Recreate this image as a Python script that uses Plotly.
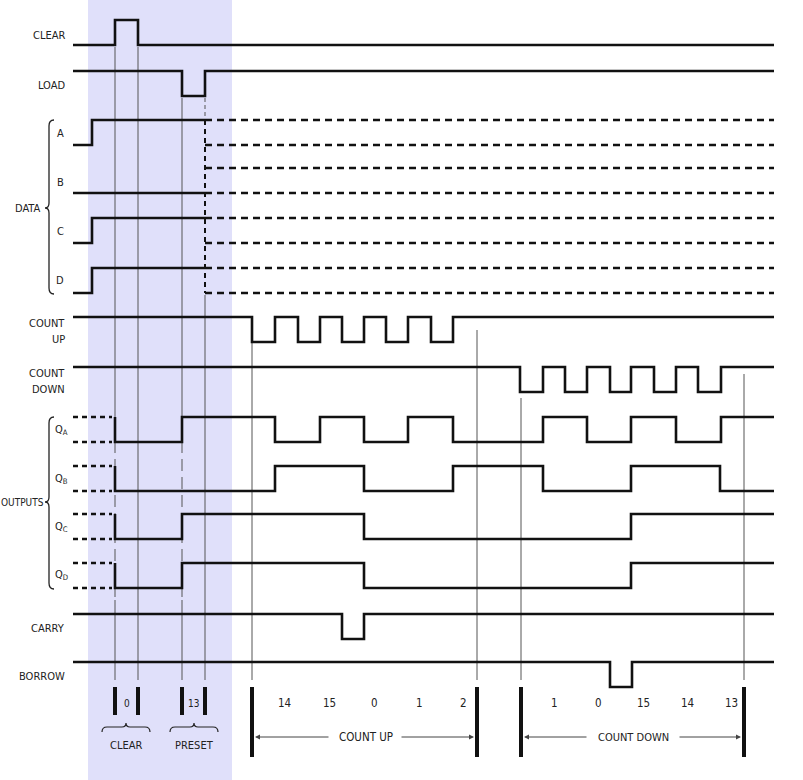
import plotly.graph_objects as go

# ---- time axis of the diagram (drawing units) ----
t_start, t_end = 73, 774
clear_marks = [115, 138]
preset_marks = [182, 205]
count_up_start, count_up_stop = 252, 477
count_down_start, count_down_stop = 521, 744

# ---- waveforms: step times and logic level after each time ----
clear_t = [73, 115, 138, 774]
clear_v = [0, 1, 0, 0]
load_t = [73, 182, 205, 774]
load_v = [1, 0, 1, 1]
data_a_t = [73, 92, 205]
data_a_v = [0, 1, 1]
data_b_t = [73, 205]
data_b_v = [0, 0]
data_c_t = [73, 92, 205]
data_c_v = [0, 1, 1]
data_d_t = [73, 92, 205]
data_d_v = [0, 1, 1]
count_up_t = [73, 252, 275, 298, 320, 342, 364, 386, 408, 431, 453, 774]
count_up_v = [1, 0, 1, 0, 1, 0, 1, 0, 1, 0, 1, 1]
count_down_t = [73, 520, 543, 565, 587, 610, 631, 654, 676, 698, 721, 774]
count_down_v = [1, 0, 1, 0, 1, 0, 1, 0, 1, 0, 1, 1]
qa_t = [115, 115, 182, 275, 320, 364, 408, 453, 543, 587, 631, 676, 721, 774]
qa_v = [1, 0, 1, 0, 1, 0, 1, 0, 1, 0, 1, 0, 1, 1]
qb_t = [115, 115, 275, 364, 453, 543, 631, 720, 774]
qb_v = [1, 0, 1, 0, 1, 0, 1, 0, 0]
qc_t = [115, 115, 182, 364, 631, 774]
qc_v = [1, 0, 1, 0, 1, 1]
qd_t = [115, 115, 182, 364, 631, 774]
qd_v = [1, 0, 1, 0, 1, 1]
carry_t = [73, 342, 364, 774]
carry_v = [1, 0, 1, 1]
borrow_t = [73, 610, 632, 774]
borrow_v = [1, 0, 1, 1]

up_counts = ["14", "15", "0", "1", "2"]
up_count_t = [284, 329, 374, 419, 463]
down_counts = ["1", "0", "15", "14", "13"]
down_count_t = [554, 598, 643, 687, 731]

# ---- layout ----
W, H = 803, 780
row_high = [20, 71, 120, 168, 218, 268, 317, 367, 417, 466, 514, 563, 614, 662]
amp = 25
INK = "#111111"
TXT = "#222222"
THIN = "#555555"
FONT = "DejaVu Sans Condensed, Liberation Sans Narrow, sans-serif"

fig = go.Figure()
shapes = []
ann = []

# shaded clear/preset band
shapes.append(dict(type="rect", x0=88, x1=232, y0=0, y1=H, fillcolor="#e0e0fa",
                   line=dict(width=0), layer="below"))


def lv(row, v):
    return row_high[row] + (0 if v else amp)


def wave(row, t, v, dash="solid", width=2.6):
    fig.add_trace(go.Scatter(x=t, y=[lv(row, a) for a in v], mode="lines",
                             line=dict(shape="hv", color=INK, width=width, dash=dash),
                             hoverinfo="skip", showlegend=False))


def vline(x, y0, y1, dash="solid", width=1, color=THIN):
    fig.add_trace(go.Scatter(x=[x, x], y=[y0, y1], mode="lines",
                             line=dict(color=color, width=width, dash=dash),
                             hoverinfo="skip", showlegend=False))


# thin timing reference lines
vline(clear_marks[0], 47, 405)
vline(clear_marks[0], 405, 600, dash="12px,6px")
vline(clear_marks[0], 600, 680)
vline(clear_marks[1], 47, 680)
vline(preset_marks[0], 98, 405)
vline(preset_marks[0], 405, 600, dash="12px,6px")
vline(preset_marks[0], 600, 680)
vline(preset_marks[1], 98, 120, dash="4px,3px")
vline(preset_marks[1], 295, 680)
vline(count_up_start, 343, 680)
vline(count_up_stop, 330, 680)
vline(count_down_start, 398, 680)
vline(count_down_stop, 374, 680)

# waveforms
wave(0, clear_t, clear_v)
wave(1, load_t, load_v)
for r, (t, v) in enumerate([(data_a_t, data_a_v), (data_b_t, data_b_v),
                            (data_c_t, data_c_v), (data_d_t, data_d_v)], start=2):
    wave(r, t, v)
    for lvl in (1, 0):
        fig.add_trace(go.Scatter(x=[205, t_end], y=[lv(r, lvl)] * 2, mode="lines",
                                 line=dict(color=INK, width=2.4, dash="7px,5px"),
                                 hoverinfo="skip", showlegend=False))
vline(preset_marks[1], 120, 293, dash="5px,4px", width=2, color=INK)
wave(6, count_up_t, count_up_v)
wave(7, count_down_t, count_down_v)
for r, (t, v) in enumerate([(qa_t, qa_v), (qb_t, qb_v), (qc_t, qc_v), (qd_t, qd_v)], start=8):
    for lvl in (1, 0):
        fig.add_trace(go.Scatter(x=[t_start, 112], y=[lv(r, lvl)] * 2, mode="lines",
                                 line=dict(color=INK, width=2.4, dash="5px,4px"),
                                 hoverinfo="skip", showlegend=False))
    wave(r, t, v)
wave(12, carry_t, carry_v)
wave(13, borrow_t, borrow_v)

# left labels
def label(x, y, text, anchor="right", size=11):
    ann.append(dict(x=x, y=y, text=text, showarrow=False, xanchor=anchor, yanchor="middle",
                    font=dict(family=FONT, size=size, color=TXT)))


label(67, 35, "CLEAR")
label(67, 85, "LOAD")
label(66, 133, "A")
label(66, 182, "B")
label(66, 231, "C")
label(66, 280, "D")
label(43, 208, "DATA")
label(67, 323, "COUNT")
label(67, 339, "UP")
label(67, 373, "COUNT")
label(67, 389, "DOWN")
label(53, 430, "Q<sub>A</sub>", anchor="left")
label(53, 479, "Q<sub>B</sub>", anchor="left")
label(53, 527, "Q<sub>C</sub>", anchor="left")
label(53, 575, "Q<sub>D</sub>", anchor="left")
label(46, 502, "OUTPUTS", size=10)
label(67, 628, "CARRY")
label(67, 676, "BORROW")

# curly brackets on the left
def left_brace(x, y0, ym, y1):
    return (f"M {x+5},{y0} Q {x},{y0} {x},{y0+6} L {x},{ym-5} Q {x},{ym} {x-4},{ym} "
            f"Q {x},{ym} {x},{ym+5} L {x},{y1-6} Q {x},{y1} {x+5},{y1}")


shapes.append(dict(type="path", path=left_brace(49, 120, 208, 294), line=dict(color=TXT, width=1.3)))
shapes.append(dict(type="path", path=left_brace(49, 417, 502, 589), line=dict(color=TXT, width=1.3)))

# bottom count markers
for x in clear_marks + preset_marks:
    shapes.append(dict(type="line", x0=x, x1=x, y0=687, y1=715, line=dict(color=INK, width=4)))
for x in [count_up_start, count_up_stop, count_down_start, count_down_stop]:
    shapes.append(dict(type="line", x0=x, x1=x, y0=687, y1=757, line=dict(color=INK, width=4)))

label(sum(clear_marks) / 2, 703, "0", anchor="center", size=10)
label(sum(preset_marks) / 2, 703, "13", anchor="center", size=10)
for s, x in zip(up_counts, up_count_t):
    label(x, 703, s, anchor="center", size=11.5)
for s, x in zip(down_counts, down_count_t):
    label(x, 703, s, anchor="center", size=11.5)


def bottom_brace(x0, x1, y):
    xm = (x0 + x1) / 2
    return (f"M {x0},{y+5} Q {x0},{y} {x0+5},{y} L {xm-4},{y} Q {xm},{y} {xm},{y-4} "
            f"Q {xm},{y} {xm+4},{y} L {x1-5},{y} Q {x1},{y} {x1},{y+5}")


shapes.append(dict(type="path", path=bottom_brace(102, 150, 727), line=dict(color=TXT, width=1.2)))
shapes.append(dict(type="path", path=bottom_brace(170, 218, 727), line=dict(color=TXT, width=1.2)))
label(126, 745, "CLEAR", anchor="center")
label(194, 745, "PRESET", anchor="center")


def arrow(head, tail, y):
    ann.append(dict(x=head, y=y, ax=tail, ay=y, axref="x", ayref="y", xref="x", yref="y",
                    text="", showarrow=True, arrowhead=2, arrowsize=1, arrowwidth=1,
                    arrowcolor="#444444"))


arrow(count_up_start + 3, 330, 737)
arrow(count_up_stop - 3, 400, 737)
label(366, 737, "COUNT UP", anchor="center", size=11.5)
arrow(count_down_start + 3, 588, 737)
arrow(count_down_stop - 3, 678, 737)
label(633, 737, "COUNT DOWN", anchor="center", size=11)

fig.update_layout(
    width=W, height=H, autosize=False,
    margin=dict(l=0, r=0, t=0, b=0),
    paper_bgcolor="white", plot_bgcolor="white",
    xaxis=dict(range=[0, W], visible=False, fixedrange=True),
    yaxis=dict(range=[H, 0], visible=False, fixedrange=True),
    shapes=shapes, annotations=ann, showlegend=False,
)
# drop the page's default body margin so the figure fills the window
fig.write_html("out.html", config={"displayModeBar": False},
               post_script="document.body.style.margin='0';")
